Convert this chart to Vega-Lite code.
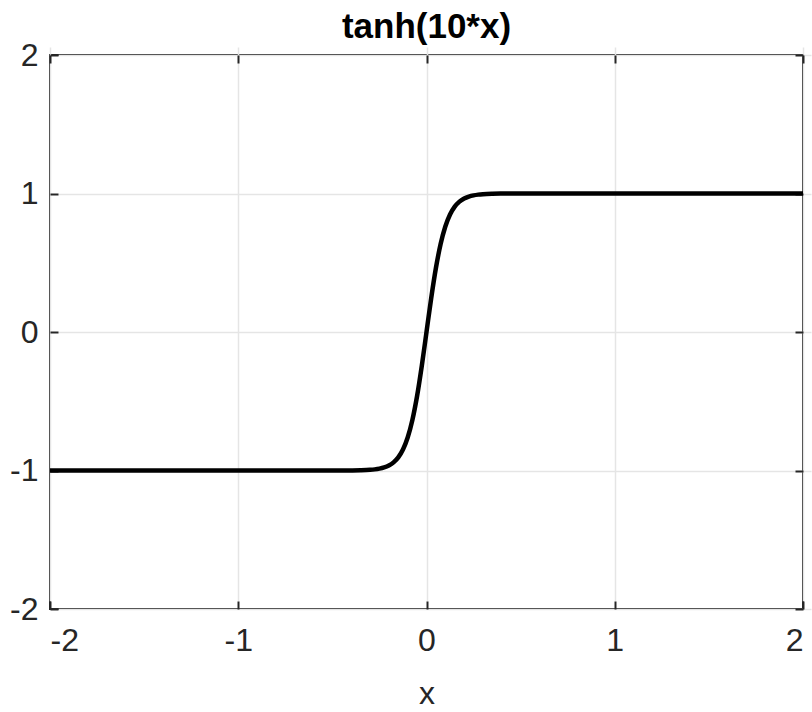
{
  "$schema": "https://vega.github.io/schema/vega-lite/v6.json",
  "autosize": "none",
  "width": 753,
  "height": 554,
  "padding": {"left": 50, "top": 55, "right": 9, "bottom": 103},
  "background": "white",
  "title": {"text": "tanh(10*x)", "font": "Liberation Sans", "fontSize": 35, "fontWeight": "bold", "color": "#000000", "offset": -6},
  "config": {
    "view": {"stroke": "#262626", "strokeWidth": 2},
    "axis": {
      "labelFont": "Liberation Sans", "labelFontSize": 32, "labelColor": "#262626",
      "titleFont": "Liberation Sans", "titleFontSize": 32, "titleColor": "#262626", "titleFontWeight": "normal",
      "gridColor": "#e5e5e5", "gridWidth": 1.5, "domain": false,
      "tickColor": "#262626", "tickWidth": 2, "tickSize": 8, "offset": -8
    }
  },
  "data": {"values": [
    {"x": -2, "y": -1},
    {"x": -1.5, "y": -1},
    {"x": -1, "y": -1},
    {"x": -0.7, "y": -0.99999},
    {"x": -0.5, "y": -0.99991},
    {"x": -0.45, "y": -0.99975},
    {"x": -0.4, "y": -0.99933},
    {"x": -0.35, "y": -0.99818},
    {"x": -0.3, "y": -0.99505},
    {"x": -0.275, "y": -0.99186},
    {"x": -0.25, "y": -0.98661},
    {"x": -0.225, "y": -0.97803},
    {"x": -0.2, "y": -0.96403},
    {"x": -0.175, "y": -0.94138},
    {"x": -0.15, "y": -0.90515},
    {"x": -0.125, "y": -0.84828},
    {"x": -0.1, "y": -0.76159},
    {"x": -0.075, "y": -0.63515},
    {"x": -0.05, "y": -0.46212},
    {"x": -0.025, "y": -0.24492},
    {"x": 0, "y": 0},
    {"x": 0.025, "y": 0.24492},
    {"x": 0.05, "y": 0.46212},
    {"x": 0.075, "y": 0.63515},
    {"x": 0.1, "y": 0.76159},
    {"x": 0.125, "y": 0.84828},
    {"x": 0.15, "y": 0.90515},
    {"x": 0.175, "y": 0.94138},
    {"x": 0.2, "y": 0.96403},
    {"x": 0.225, "y": 0.97803},
    {"x": 0.25, "y": 0.98661},
    {"x": 0.275, "y": 0.99186},
    {"x": 0.3, "y": 0.99505},
    {"x": 0.35, "y": 0.99818},
    {"x": 0.4, "y": 0.99933},
    {"x": 0.45, "y": 0.99975},
    {"x": 0.5, "y": 0.99991},
    {"x": 0.7, "y": 0.99999},
    {"x": 1, "y": 1},
    {"x": 1.5, "y": 1},
    {"x": 2, "y": 1}
  ]},
  "resolve": {"axis": {"x": "independent", "y": "independent"}},
  "layer": [
    {
      "mark": {"type": "line", "color": "#000000", "strokeWidth": 4.5, "interpolate": "monotone"},
      "encoding": {
        "x": {"field": "x", "type": "quantitative", "scale": {"domain": [-2, 2], "nice": false},
          "axis": {"values": [-2, -1, 0, 1, 2], "title": "x", "labelPadding": 16, "titlePadding": 22, "labelExpr": "replace(datum.label, '−', '-')"}},
        "y": {"field": "y", "type": "quantitative", "scale": {"domain": [-2, 2], "nice": false},
          "axis": {"values": [-2, -1, 0, 1, 2], "title": null, "labelPadding": 12, "labelExpr": "replace(datum.label, '−', '-')"}}
      }
    },
    {
      "mark": {"type": "line", "opacity": 0},
      "encoding": {
        "x": {"field": "x", "type": "quantitative", "scale": {"domain": [-2, 2], "nice": false},
          "axis": {"orient": "top", "values": [-2, -1, 0, 1, 2], "title": null, "labels": false, "grid": false}},
        "y": {"field": "y", "type": "quantitative", "scale": {"domain": [-2, 2], "nice": false},
          "axis": {"orient": "right", "values": [-2, -1, 0, 1, 2], "title": null, "labels": false, "grid": false}}
      }
    }
  ]
}
